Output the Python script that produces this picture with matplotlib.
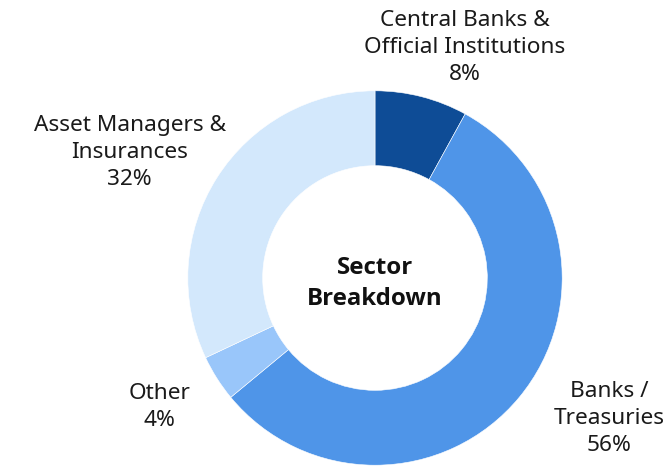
import matplotlib
matplotlib.use("Agg")
import matplotlib.pyplot as plt

# sector shares (%), clockwise from 12 o'clock
sectors = ["Central Banks &\nOfficial Institutions", "Banks /\nTreasuries",
           "Other", "Asset Managers &\nInsurances"]
shares = [8, 56, 4, 32]
colors = ["#0E4C96", "#4F95E8", "#99C6FA", "#D3E8FC"]

# label anchor points in data units (pie radius = 1)
label_pos = [(0.48, 1.23), (1.25, -0.75), (-1.15, -0.69), (-1.31, 0.67)]

plt.rcParams["font.family"] = ["Noto Sans", "DejaVu Sans"]

fig = plt.figure(figsize=(6.71, 4.66), dpi=100)
R = 187.2
cx, cy = 375, 278
ax = fig.add_axes([(cx - R) / 671, (466 - cy - R) / 466, 2 * R / 671, 2 * R / 466])

ax.pie(shares, colors=colors, startangle=90, counterclock=False, radius=1,
       wedgeprops=dict(width=0.4, edgecolor="white", linewidth=0.4))

for name, val, (x, y) in zip(sectors, shares, label_pos):
    ax.text(x, y, f"{name}\n{val}%", ha="center", va="center",
            fontsize=16.3, color="#1a1a1a", linespacing=1.38)

ax.text(0, -0.03, "Sector\nBreakdown", ha="center", va="center",
        fontsize=17.3, fontweight="bold", family=["Open Sans", "DejaVu Sans"],
        color="#111111", linespacing=1.42)

ax.set_xlim(-1, 1)
ax.set_ylim(-1, 1)
ax.axis("off")

fig.savefig("out.png", dpi=100)
